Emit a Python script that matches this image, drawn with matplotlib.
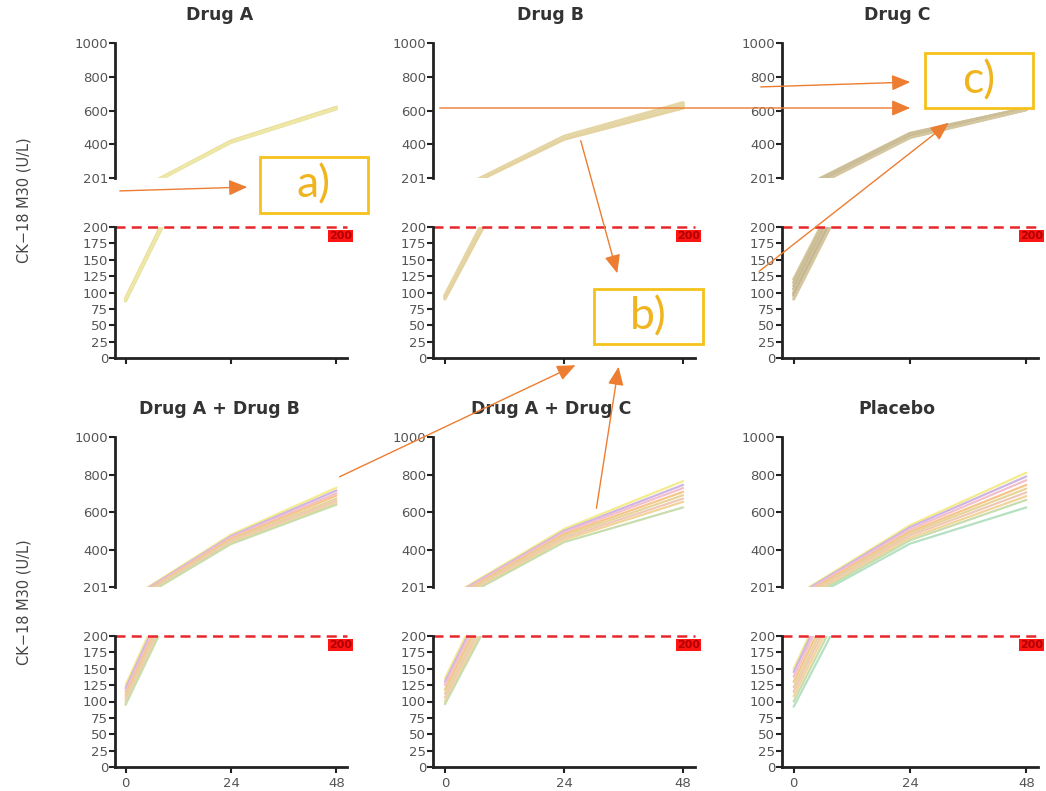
import matplotlib.pyplot as plt
from matplotlib.patches import FancyArrowPatch, Rectangle
import matplotlib.transforms as mtransforms

plt.rcParams['font.family'] = ['DejaVu Sans']

hours = [0, 24, 48]

# CK-18 M30 per subject at 0 h, 24 h, 48 h
drug_a = [[88, 414, 612], [89, 416, 615], [90, 418, 617],
          [87, 412, 610], [91, 420, 620], [89, 415, 614]]
drug_b = [[96, 448, 648], [95, 445, 640], [94, 442, 636], [94, 440, 632],
          [93, 438, 628], [92, 435, 625], [91, 433, 620], [90, 430, 615]]
drug_c = [[120, 466, 615], [115, 462, 615], [110, 460, 612], [105, 455, 612],
          [100, 450, 610], [98, 448, 606], [95, 445, 608], [90, 440, 605]]
drug_ab = [[125, 480, 730], [120, 472, 715], [115, 465, 700], [110, 457, 688],
           [106, 450, 672], [102, 444, 660], [98, 437, 648], [95, 430, 640]]
drug_ac = [[135, 510, 765], [130, 500, 745], [125, 492, 728], [118, 482, 708],
           [112, 472, 690], [106, 462, 672], [100, 452, 655], [96, 440, 625]]
placebo = [[150, 530, 810], [145, 520, 790], [138, 508, 770], [130, 496, 745],
           [122, 486, 725], [115, 475, 705], [108, 462, 685], [100, 450, 665],
           [92, 432, 625]]

titles = ['Drug A', 'Drug B', 'Drug C', 'Drug A + Drug B', 'Drug A + Drug C', 'Placebo']
groups = [drug_a, drug_b, drug_c, drug_ab, drug_ac, placebo]
cutoff = 200

# line colours per group
yellow_band = ['#e9e59a', '#e2df8c', '#ede6a4', '#dfe39b', '#e8dc96', '#eee7a8']
beige_band = ['#eadba0', '#e6cfa9', '#ddd0b8', '#efe2a0', '#e7d6a4', '#d9cfae', '#ecdfa7', '#e4d3a0']
khaki_band = ['#d6c89b', '#cbbd97', '#d0c09c', '#c7b994', '#d9cba0', '#cdbf9a', '#c3b592', '#d4c69e']
rainbow = ['#f4ec8c', '#cdb6e3', '#f3bfcf', '#f6c58a', '#e5d59a', '#f0c8b8', '#f2d49a', '#c9dcae', '#b5e0c2']
group_colors = [yellow_band, beige_band, khaki_band, rainbow, rainbow, rainbow]

W, H = 1046, 791
fig = plt.figure(figsize=(W / 100, H / 100), dpi=100)


def box(x0, y0, x1, y1):
    return [x0 / W, 1 - y1 / H, (x1 - x0) / W, (y1 - y0) / H]


def fpt(x, y):
    return (x / W, 1 - y / H)


cols = [(115, 347), (433, 695), (782, 1038)]
rows = [(43, 178, 227, 358), (437, 587, 636, 767)]

for i, (title, data, colors) in enumerate(zip(titles, groups, group_colors)):
    r, c = divmod(i, 3)
    x0, x1 = cols[c]
    ut, ub, lt, lb = rows[r]
    ax_hi = fig.add_axes(box(x0, ut, x1, ub))
    ax_lo = fig.add_axes(box(x0, lt, x1, lb))

    lw = 2.2 if r == 0 else 1.6
    for vals, col in zip(data, colors):
        for ax in (ax_hi, ax_lo):
            ax.plot(hours, vals, color=col, lw=lw, solid_capstyle='round')

    ax_hi.set_ylim(201, 1000)
    ax_hi.set_yticks([201, 400, 600, 800, 1000])
    ax_lo.set_ylim(0, 200)
    ax_lo.set_yticks(range(0, 201, 25))
    for ax in (ax_hi, ax_lo):
        ax.set_xlim(-2.4, 50.4)
        for s in ax.spines.values():
            s.set_linewidth(2)
            s.set_color('#222222')
        ax.spines['top'].set_visible(False)
        ax.spines['right'].set_visible(False)
        ax.tick_params(labelsize=9.5, labelcolor='#555555', color='#222222',
                       width=1.5, length=4, pad=1)
    ax_hi.spines['bottom'].set_visible(False)
    ax_hi.set_xticks([])
    ax_lo.set_xticks(hours)
    if r == 0:
        ax_lo.set_xticklabels([])
    else:
        ax_lo.tick_params(axis='x', pad=3)

    ax_lo.axhline(cutoff, color='#e8262a', lw=1.8, ls=(0, (4, 2.5)), clip_on=False)
    trans = mtransforms.blended_transform_factory(ax_lo.transAxes, ax_lo.transData)
    ax_lo.text(1.02, 186, str(cutoff), transform=trans, ha='right', va='center',
               color='#b00000', fontsize=8, fontweight='bold', clip_on=False,
               bbox=dict(boxstyle='square,pad=0.1', fc='#ff1414', ec='none'))

    ax_hi.annotate(title, xy=(0.45, 1), xycoords='axes fraction',
                   xytext=(0, 20), textcoords='offset points',
                   ha='center', va='center', fontsize=12.5, fontweight='bold',
                   color='#333333')

for yc in (200, 602):
    fig.text(24 / W, 1 - yc / H, 'CK\u221218 M30 (U/L)', rotation=90,
             ha='center', va='center', fontsize=10.5, color='#444444')

# callout arrows and labelled boxes
orange = '#ed7d31'
gold = '#f5c21b'
arrows = [((117, 191), (250, 187)),
          ((580, 138), (618, 276)),
          ((337, 478), (578, 364)),
          ((596, 511), (619, 364)),
          ((758, 87), (913, 82)),
          ((437, 108), (913, 108)),
          ((757, 273), (951, 121))]
for start, end in arrows:
    fig.add_artist(FancyArrowPatch(fpt(*start), fpt(*end), transform=fig.transFigure,
                                   arrowstyle='-|>,head_length=0.75,head_width=0.32',
                                   mutation_scale=15, color=orange, lw=1.0))

callouts = [('a)', (260, 157, 368, 213)),
            ('b)', (594, 289, 703, 344)),
            ('c)', (925, 53, 1033, 108))]
for label, (bx0, by0, bx1, by1) in callouts:
    fig.add_artist(Rectangle(fpt(bx0, by1), (bx1 - bx0) / W, (by1 - by0) / H,
                             transform=fig.transFigure, fill=True, fc='white',
                             ec=gold, lw=2))
    fig.text((bx0 + bx1) / 2 / W, 1 - (by0 + by1) / 2 / H, label, ha='center',
             va='center', fontsize=32, color='#f0b41e', family=['Lato', 'DejaVu Sans'])

fig.savefig('out.png', dpi=100)
